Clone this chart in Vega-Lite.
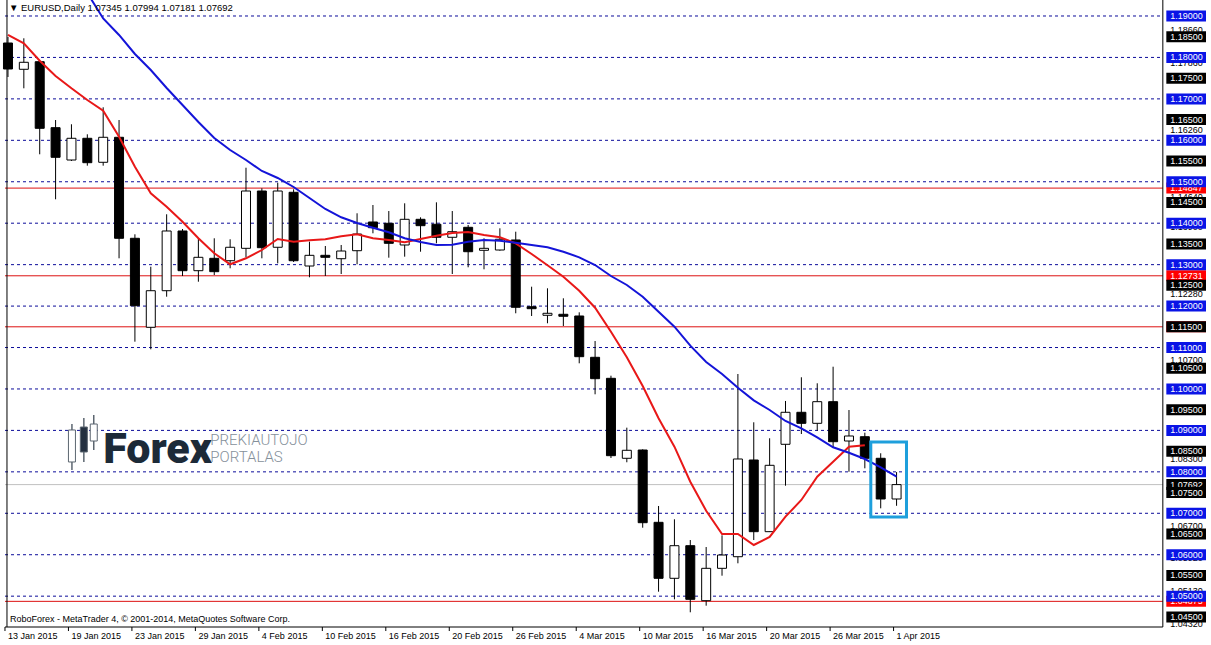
{
 "$schema": "https://vega.github.io/schema/vega-lite/v6.json",
 "width": 1211, "height": 627,
 "padding": {"left": 0, "top": 0, "right": 0, "bottom": 18},
 "autosize": {"type": "none"},
 "background": "white",
 "config": {"view": {"stroke": null}, "font": "Liberation Sans"},
 "datasets": {
  "candles": [
   {"i":0,"date":"13 Jan 2015","o":1.18348,"h":1.18493,"l":1.17528,"c":1.17721},
   {"i":1,"date":"14 Jan 2015","o":1.17714,"h":1.18462,"l":1.17255,"c":1.17883},
   {"i":2,"date":"15 Jan 2015","o":1.17897,"h":1.17938,"l":1.15663,"c":1.16290},
   {"i":3,"date":"16 Jan 2015","o":1.16305,"h":1.16490,"l":1.14577,"c":1.15590},
   {"i":4,"date":"19 Jan 2015","o":1.15525,"h":1.16387,"l":1.15501,"c":1.16049},
   {"i":5,"date":"20 Jan 2015","o":1.16049,"h":1.16145,"l":1.15388,"c":1.15460},
   {"i":6,"date":"21 Jan 2015","o":1.15470,"h":1.16797,"l":1.15388,"c":1.16073},
   {"i":7,"date":"22 Jan 2015","o":1.16073,"h":1.16490,"l":1.13153,"c":1.13636},
   {"i":8,"date":"23 Jan 2015","o":1.13636,"h":1.13732,"l":1.11141,"c":1.12009},
   {"i":9,"date":"26 Jan 2015","o":1.11488,"h":1.12950,"l":1.10957,"c":1.12371},
   {"i":10,"date":"27 Jan 2015","o":1.12371,"h":1.14215,"l":1.12226,"c":1.13812},
   {"i":11,"date":"28 Jan 2015","o":1.13812,"h":1.13860,"l":1.12726,"c":1.12854},
   {"i":12,"date":"29 Jan 2015","o":1.12854,"h":1.13636,"l":1.12588,"c":1.13177},
   {"i":13,"date":"30 Jan 2015","o":1.13153,"h":1.13636,"l":1.12750,"c":1.12830},
   {"i":14,"date":"2 Feb 2015","o":1.13095,"h":1.13612,"l":1.12912,"c":1.13419},
   {"i":15,"date":"3 Feb 2015","o":1.13394,"h":1.15339,"l":1.13177,"c":1.14777},
   {"i":16,"date":"4 Feb 2015","o":1.14777,"h":1.14842,"l":1.13153,"c":1.13409},
   {"i":17,"date":"5 Feb 2015","o":1.13419,"h":1.14977,"l":1.13032,"c":1.14777},
   {"i":18,"date":"6 Feb 2015","o":1.14746,"h":1.14818,"l":1.13064,"c":1.13095},
   {"i":19,"date":"9 Feb 2015","o":1.12967,"h":1.13554,"l":1.12695,"c":1.13225},
   {"i":20,"date":"10 Feb 2015","o":1.13225,"h":1.13450,"l":1.12726,"c":1.13177},
   {"i":21,"date":"11 Feb 2015","o":1.13143,"h":1.13474,"l":1.12774,"c":1.13329},
   {"i":22,"date":"12 Feb 2015","o":1.13336,"h":1.14239,"l":1.13008,"c":1.13739},
   {"i":23,"date":"13 Feb 2015","o":1.14029,"h":1.14439,"l":1.13756,"c":1.13891},
   {"i":24,"date":"16 Feb 2015","o":1.13998,"h":1.14294,"l":1.13168,"c":1.13515},
   {"i":25,"date":"17 Feb 2015","o":1.13474,"h":1.14480,"l":1.13192,"c":1.14094},
   {"i":26,"date":"18 Feb 2015","o":1.14094,"h":1.14142,"l":1.13312,"c":1.13940},
   {"i":27,"date":"19 Feb 2015","o":1.13974,"h":1.14504,"l":1.13515,"c":1.13660},
   {"i":28,"date":"20 Feb 2015","o":1.13660,"h":1.14294,"l":1.12774,"c":1.13795},
   {"i":29,"date":"23 Feb 2015","o":1.13901,"h":1.13957,"l":1.12936,"c":1.13312},
   {"i":30,"date":"24 Feb 2015","o":1.13346,"h":1.13636,"l":1.12888,"c":1.13394},
   {"i":31,"date":"25 Feb 2015","o":1.13353,"h":1.13877,"l":1.13336,"c":1.13612},
   {"i":32,"date":"26 Feb 2015","o":1.13595,"h":1.13795,"l":1.11826,"c":1.11971},
   {"i":33,"date":"27 Feb 2015","o":1.11985,"h":1.12468,"l":1.11761,"c":1.11937},
   {"i":34,"date":"2 Mar 2015","o":1.11778,"h":1.12429,"l":1.11585,"c":1.11826},
   {"i":35,"date":"3 Mar 2015","o":1.11802,"h":1.12188,"l":1.11519,"c":1.11754},
   {"i":36,"date":"4 Mar 2015","o":1.11761,"h":1.11850,"l":1.10619,"c":1.10779},
   {"i":37,"date":"5 Mar 2015","o":1.10764,"h":1.11157,"l":1.09871,"c":1.10248},
   {"i":38,"date":"6 Mar 2015","o":1.10257,"h":1.10320,"l":1.08334,"c":1.08390},
   {"i":39,"date":"9 Mar 2015","o":1.08327,"h":1.09066,"l":1.08231,"c":1.08520},
   {"i":40,"date":"10 Mar 2015","o":1.08527,"h":1.08544,"l":1.06652,"c":1.06773},
   {"i":41,"date":"11 Mar 2015","o":1.06782,"h":1.07176,"l":1.05108,"c":1.05431},
   {"i":42,"date":"12 Mar 2015","o":1.05431,"h":1.06855,"l":1.04924,"c":1.06218},
   {"i":43,"date":"13 Mar 2015","o":1.06218,"h":1.06355,"l":1.04611,"c":1.04924},
   {"i":44,"date":"16 Mar 2015","o":1.04891,"h":1.06186,"l":1.04770,"c":1.05672},
   {"i":45,"date":"17 Mar 2015","o":1.05672,"h":1.06469,"l":1.05494,"c":1.05993},
   {"i":46,"date":"18 Mar 2015","o":1.05952,"h":1.10361,"l":1.05793,"c":1.08310},
   {"i":47,"date":"19 Mar 2015","o":1.08286,"h":1.09196,"l":1.06355,"c":1.06556},
   {"i":48,"date":"20 Mar 2015","o":1.06556,"h":1.08810,"l":1.06548,"c":1.08158},
   {"i":49,"date":"23 Mar 2015","o":1.08665,"h":1.09710,"l":1.07666,"c":1.09437},
   {"i":50,"date":"24 Mar 2015","o":1.09437,"h":1.10282,"l":1.08913,"c":1.09171},
   {"i":51,"date":"25 Mar 2015","o":1.09171,"h":1.10137,"l":1.08993,"c":1.09693},
   {"i":52,"date":"26 Mar 2015","o":1.09693,"h":1.10537,"l":1.08592,"c":1.08727},
   {"i":53,"date":"27 Mar 2015","o":1.08744,"h":1.09492,"l":1.08003,"c":1.08865},
   {"i":54,"date":"30 Mar 2015","o":1.08848,"h":1.08945,"l":1.08085,"c":1.08327},
   {"i":55,"date":"31 Mar 2015","o":1.08327,"h":1.08448,"l":1.07120,"c":1.07345},
   {"i":56,"date":"1 Apr 2015","o":1.07345,"h":1.07994,"l":1.07181,"c":1.07692}
  ],
  "ma": [
   {"i":0,"red":1.18542,"blue":null},
   {"i":1,"red":1.18341,"blue":null},
   {"i":2,"red":1.17921,"blue":null},
   {"i":3,"red":1.17552,"blue":null},
   {"i":4,"red":1.17255,"blue":1.20134},
   {"i":5,"red":1.16973,"blue":1.19555},
   {"i":6,"red":1.16715,"blue":1.18940},
   {"i":7,"red":1.16087,"blue":1.18542},
   {"i":8,"red":1.15363,"blue":1.18083},
   {"i":9,"red":1.14722,"blue":1.17697},
   {"i":10,"red":1.14398,"blue":1.17263},
   {"i":11,"red":1.14036,"blue":1.16852},
   {"i":12,"red":1.13636,"blue":1.16442},
   {"i":13,"red":1.13274,"blue":1.16056},
   {"i":14,"red":1.13008,"blue":1.15766},
   {"i":15,"red":1.13153,"blue":1.15525},
   {"i":16,"red":1.13353,"blue":1.15260},
   {"i":17,"red":1.13619,"blue":1.15091},
   {"i":18,"red":1.13554,"blue":1.14874},
   {"i":19,"red":1.13587,"blue":1.14608},
   {"i":20,"red":1.13612,"blue":1.14343},
   {"i":21,"red":1.13684,"blue":1.14142},
   {"i":22,"red":1.13732,"blue":1.14005},
   {"i":23,"red":1.13636,"blue":1.13891},
   {"i":24,"red":1.13595,"blue":1.13780},
   {"i":25,"red":1.13539,"blue":1.13636},
   {"i":26,"red":1.13619,"blue":1.13546},
   {"i":27,"red":1.13698,"blue":1.13474},
   {"i":28,"red":1.13764,"blue":1.13481},
   {"i":29,"red":1.13788,"blue":1.13554},
   {"i":30,"red":1.13715,"blue":1.13595},
   {"i":31,"red":1.13660,"blue":1.13578},
   {"i":32,"red":1.13515,"blue":1.13530},
   {"i":33,"red":1.13257,"blue":1.13474},
   {"i":34,"red":1.12984,"blue":1.13419},
   {"i":35,"red":1.12709,"blue":1.13312},
   {"i":36,"red":1.12371,"blue":1.13177},
   {"i":37,"red":1.11961,"blue":1.12991},
   {"i":38,"red":1.11382,"blue":1.12726},
   {"i":39,"red":1.10764,"blue":1.12509},
   {"i":40,"red":1.10072,"blue":1.12226},
   {"i":41,"red":1.09292,"blue":1.11864},
   {"i":42,"red":1.08607,"blue":1.11502},
   {"i":43,"red":1.07762,"blue":1.11044},
   {"i":44,"red":1.07062,"blue":1.10651},
   {"i":45,"red":1.06500,"blue":1.10361},
   {"i":46,"red":1.06500,"blue":1.10031},
   {"i":47,"red":1.06235,"blue":1.09726},
   {"i":48,"red":1.06428,"blue":1.09492},
   {"i":49,"red":1.06918,"blue":1.09227},
   {"i":50,"red":1.07321,"blue":1.09051},
   {"i":51,"red":1.07883,"blue":1.08834},
   {"i":52,"red":1.08245,"blue":1.08592},
   {"i":53,"red":1.08607,"blue":1.08462},
   {"i":54,"red":1.08641,"blue":1.08310},
   {"i":55,"red":null,"blue":1.08110},
   {"i":56,"red":null,"blue":1.07883}
  ],
  "grid": [{"v":1.19},{"v":1.18},{"v":1.17},{"v":1.16},{"v":1.15},{"v":1.14},{"v":1.13},{"v":1.12},{"v":1.11},{"v":1.10},{"v":1.09},{"v":1.08},{"v":1.07},{"v":1.06},{"v":1.05}],
  "half": [{"v":1.185},{"v":1.175},{"v":1.165},{"v":1.155},{"v":1.145},{"v":1.135},{"v":1.125},{"v":1.115},{"v":1.105},{"v":1.095},{"v":1.085},{"v":1.075},{"v":1.065},{"v":1.055},{"v":1.045}],
  "redlines": [{"v":1.14847},{"v":1.12731},{"v":1.115},{"v":1.04875}],
  "plain": [{"v":1.1866},{"v":1.1786},{"v":1.1626},{"v":1.1464},{"v":1.139},{"v":1.1228},{"v":1.107},{"v":1.0996},{"v":1.083},{"v":1.067},{"v":1.0592},{"v":1.0513},{"v":1.0432}],
  "bid": [{"v":1.07692}],
  "logo": [
   {"i":4.031,"o":1.08238,"c":1.09010,"h":1.09154,"l":1.08044},
   {"i":4.781,"o":1.09082,"c":1.08479,"h":1.09299,"l":1.08238},
   {"i":5.406,"o":1.08744,"c":1.09154,"h":1.09372,"l":1.08527}
  ]
 },
 "layer": [
  {
   "data": {"name": "grid"},
   "mark": {"type": "rule", "color": "#0c0c9a", "strokeDash": [3, 3], "strokeWidth": 1},
   "encoding": {
    "y": {"field": "v", "type": "quantitative", "scale": {"domain": [1.04256, 1.19386], "nice": false, "zero": false}, "axis": null},
    "x": {"datum": -0.1875, "type": "quantitative", "scale": {"domain": [-0.1875, 75.5], "nice": false, "zero": false}, "axis": null},
    "x2": {"datum": 72.78}
   }
  },
  {
   "data": {"name": "redlines"},
   "mark": {"type": "rule", "color": "#dd1111", "strokeWidth": 1},
   "encoding": {
    "y": {"field": "v", "type": "quantitative", "axis": null},
    "x": {"datum": -0.1875, "type": "quantitative", "axis": null},
    "x2": {"datum": 72.78}
   }
  },
  {
   "data": {"name": "bid"},
   "mark": {"type": "rule", "color": "#c0c0c0", "strokeWidth": 1},
   "encoding": {
    "y": {"field": "v", "type": "quantitative", "axis": null},
    "x": {"datum": -0.1875, "type": "quantitative", "axis": null},
    "x2": {"datum": 72.78}
   }
  },
  {
   "data": {"name": "candles"},
   "mark": {"type": "rule", "color": "black", "strokeWidth": 1},
   "encoding": {
    "x": {"field": "i", "type": "quantitative", "axis": null},
    "y": {"field": "l", "type": "quantitative", "axis": null},
    "y2": {"field": "h"}
   }
  },
  {
   "data": {"name": "candles"},
   "mark": {"type": "bar", "width": 9, "stroke": "black", "strokeWidth": 1},
   "encoding": {
    "x": {"field": "i", "type": "quantitative", "axis": null},
    "y": {"field": "o", "type": "quantitative", "axis": null},
    "y2": {"field": "c"},
    "fill": {"condition": {"test": "datum.c >= datum.o", "value": "white"}, "value": "black"}
   }
  },
  {
   "data": {"name": "ma"},
   "mark": {"type": "line", "color": "#e81818", "strokeWidth": 2, "clip": true},
   "encoding": {
    "x": {"field": "i", "type": "quantitative", "axis": null},
    "y": {"field": "red", "type": "quantitative", "axis": null}
   }
  },
  {
   "data": {"name": "ma"},
   "mark": {"type": "line", "color": "#1414d8", "strokeWidth": 2, "clip": true},
   "encoding": {
    "x": {"field": "i", "type": "quantitative", "axis": null},
    "y": {"field": "blue", "type": "quantitative", "axis": null}
   }
  },
  {
   "data": {"values": [{}]},
   "mark": {"type": "rect", "fill": null, "fillOpacity": 0, "stroke": "#1e9fdc", "strokeWidth": 3},
   "encoding": {
    "x": {"datum": 54.375, "type": "quantitative", "axis": null},
    "x2": {"datum": 56.625},
    "y": {"datum": 1.08720, "type": "quantitative", "axis": null},
    "y2": {"datum": 1.06910}
   }
  },
  {
   "data": {"name": "logo"},
   "mark": {"type": "rule", "color": "#5c6670", "strokeWidth": 1.5},
   "encoding": {
    "x": {"field": "i", "type": "quantitative", "axis": null},
    "y": {"field": "l", "type": "quantitative", "axis": null},
    "y2": {"field": "h"}
   }
  },
  {
   "data": {"name": "logo"},
   "mark": {"type": "bar", "width": 7, "stroke": "#5c6670", "strokeWidth": 1},
   "encoding": {
    "x": {"field": "i", "type": "quantitative", "axis": null},
    "y": {"field": "o", "type": "quantitative", "axis": null},
    "y2": {"field": "c"},
    "fill": {"condition": {"test": "datum.c >= datum.o", "value": "white"}, "value": "#243040"}
   }
  },
  {
   "data": {"values": [{"t": "Forex"}]},
   "mark": {"type": "text", "align": "left", "baseline": "alphabetic", "font": "Roboto", "fontWeight": 900, "fontSize": 43, "color": "#1c2a38", "letterSpacing": -2},
   "encoding": {
    "x": {"datum": 6.0, "type": "quantitative", "axis": null},
    "y": {"datum": 1.08213, "type": "quantitative", "axis": null},
    "text": {"field": "t"}
   }
  },
  {
   "data": {"values": [{"t": "PREKIAUTOJO"}]},
   "mark": {"type": "text", "align": "left", "baseline": "alphabetic", "font": "Roboto", "fontWeight": 300, "fontSize": 15, "color": "#85909a"},
   "encoding": {
    "x": {"datum": 12.75, "type": "quantitative", "axis": null},
    "y": {"datum": 1.08648, "type": "quantitative", "axis": null},
    "text": {"field": "t"}
   }
  },
  {
   "data": {"values": [{"t": "PORTALAS"}]},
   "mark": {"type": "text", "align": "left", "baseline": "alphabetic", "font": "Roboto", "fontWeight": 300, "fontSize": 15, "color": "#85909a"},
   "encoding": {
    "x": {"datum": 12.75, "type": "quantitative", "axis": null},
    "y": {"datum": 1.08238, "type": "quantitative", "axis": null},
    "text": {"field": "t"}
   }
  },
  {
   "data": {"values": [{}]},
   "mark": {"type": "rule", "color": "black", "strokeWidth": 1},
   "encoding": {
    "x": {"datum": -0.0625, "type": "quantitative", "axis": null},
    "y": {"datum": 1.19386, "type": "quantitative", "axis": null},
    "y2": {"datum": 1.04256}
   }
  },
  {
   "data": {"values": [{}]},
   "mark": {"type": "rule", "color": "black", "strokeWidth": 1},
   "encoding": {
    "x": {"datum": 72.78, "type": "quantitative", "axis": null},
    "y": {"datum": 1.19386, "type": "quantitative", "axis": null},
    "y2": {"datum": 1.04256}
   }
  },
  {
   "data": {"values": [{}]},
   "mark": {"type": "rule", "color": "black", "strokeWidth": 1},
   "encoding": {
    "x": {"datum": -0.1875, "type": "quantitative", "axis": null},
    "x2": {"datum": 72.78},
    "y": {"datum": 1.04256, "type": "quantitative", "axis": null}
   }
  },
  {
   "data": {"name": "candles"},
   "transform": [{"filter": "datum.i % 4 == 0"}],
   "mark": {"type": "rule", "color": "black", "strokeWidth": 1, "xOffset": -3},
   "encoding": {
    "x": {"field": "i", "type": "quantitative", "axis": null},
    "y": {"datum": 1.04256, "type": "quantitative", "axis": null},
    "y2": {"datum": 1.04159}
   }
  },
  {
   "data": {"name": "candles"},
   "transform": [{"filter": "datum.i % 4 == 0"}],
   "mark": {"type": "text", "align": "left", "baseline": "middle", "fontSize": 9, "color": "black", "font": "Liberation Sans"},
   "encoding": {
    "x": {"field": "i", "type": "quantitative", "axis": null},
    "y": {"datum": 1.04039, "type": "quantitative", "axis": null},
    "text": {"field": "date", "type": "nominal"}
   }
  },
  {
   "data": {"name": "plain"},
   "mark": {"type": "rule", "color": "white", "strokeWidth": 11, "strokeCap": "butt"},
   "encoding": {
    "y": {"field": "v", "type": "quantitative", "axis": null},
    "x": {"datum": 73.0, "type": "quantitative", "axis": null},
    "x2": {"datum": 75.5}
   }
  },
  {
   "data": {"name": "plain"},
   "mark": {"type": "text", "align": "left", "baseline": "middle", "fontSize": 9, "color": "black", "font": "Liberation Sans"},
   "encoding": {
    "y": {"field": "v", "type": "quantitative", "axis": null},
    "x": {"datum": 73.25, "type": "quantitative", "axis": null},
    "text": {"field": "v", "type": "quantitative", "format": ".5f"}
   }
  },
  {
   "data": {"name": "redlines"},
   "mark": {"type": "rule", "color": "#ff0000", "strokeWidth": 11, "strokeCap": "butt"},
   "encoding": {
    "y": {"field": "v", "type": "quantitative", "axis": null},
    "x": {"datum": 73.0, "type": "quantitative", "axis": null},
    "x2": {"datum": 75.5}
   }
  },
  {
   "data": {"name": "redlines"},
   "mark": {"type": "text", "align": "left", "baseline": "middle", "fontSize": 9, "color": "white", "font": "Liberation Sans"},
   "encoding": {
    "y": {"field": "v", "type": "quantitative", "axis": null},
    "x": {"datum": 73.25, "type": "quantitative", "axis": null},
    "text": {"field": "v", "type": "quantitative", "format": ".5f"}
   }
  },
  {
   "data": {"name": "bid"},
   "mark": {"type": "rule", "color": "black", "strokeWidth": 11, "strokeCap": "butt"},
   "encoding": {
    "y": {"field": "v", "type": "quantitative", "axis": null},
    "x": {"datum": 73.0, "type": "quantitative", "axis": null},
    "x2": {"datum": 75.5}
   }
  },
  {
   "data": {"name": "bid"},
   "mark": {"type": "text", "align": "left", "baseline": "middle", "fontSize": 9, "color": "white", "font": "Liberation Sans"},
   "encoding": {
    "y": {"field": "v", "type": "quantitative", "axis": null},
    "x": {"datum": 73.25, "type": "quantitative", "axis": null},
    "text": {"field": "v", "type": "quantitative", "format": ".5f"}
   }
  },
  {
   "data": {"name": "half"},
   "mark": {"type": "rule", "color": "black", "strokeWidth": 11, "strokeCap": "butt"},
   "encoding": {
    "y": {"field": "v", "type": "quantitative", "axis": null},
    "x": {"datum": 73.0, "type": "quantitative", "axis": null},
    "x2": {"datum": 75.5}
   }
  },
  {
   "data": {"name": "half"},
   "mark": {"type": "text", "align": "left", "baseline": "middle", "fontSize": 9, "color": "white", "font": "Liberation Sans"},
   "encoding": {
    "y": {"field": "v", "type": "quantitative", "axis": null},
    "x": {"datum": 73.25, "type": "quantitative", "axis": null},
    "text": {"field": "v", "type": "quantitative", "format": ".5f"}
   }
  },
  {
   "data": {"name": "grid"},
   "mark": {"type": "rule", "color": "#0a14e6", "strokeWidth": 11, "strokeCap": "butt"},
   "encoding": {
    "y": {"field": "v", "type": "quantitative", "axis": null},
    "x": {"datum": 73.0, "type": "quantitative", "axis": null},
    "x2": {"datum": 75.5}
   }
  },
  {
   "data": {"name": "grid"},
   "mark": {"type": "text", "align": "left", "baseline": "middle", "fontSize": 9, "color": "white", "font": "Liberation Sans"},
   "encoding": {
    "y": {"field": "v", "type": "quantitative", "axis": null},
    "x": {"datum": 73.25, "type": "quantitative", "axis": null},
    "text": {"field": "v", "type": "quantitative", "format": ".5f"}
   }
  },
  {
   "data": {"values": [{"t": "▼ EURUSD,Daily  1.07345 1.07994 1.07181 1.07692"}]},
   "mark": {"type": "text", "align": "left", "baseline": "middle", "fontSize": 9.5, "color": "black", "font": "Liberation Sans"},
   "encoding": {
    "x": {"datum": 0.0625, "type": "quantitative", "axis": null},
    "y": {"datum": 1.19193, "type": "quantitative", "axis": null},
    "text": {"field": "t"}
   }
  },
  {
   "data": {"values": [{"t": "RoboForex - MetaTrader 4, © 2001-2014, MetaQuotes Software Corp."}]},
   "mark": {"type": "text", "align": "left", "baseline": "middle", "fontSize": 9, "color": "black", "font": "Liberation Sans"},
   "encoding": {
    "x": {"datum": 0.125, "type": "quantitative", "axis": null},
    "y": {"datum": 1.04449, "type": "quantitative", "axis": null},
    "text": {"field": "t"}
   }
  }
 ]
}
